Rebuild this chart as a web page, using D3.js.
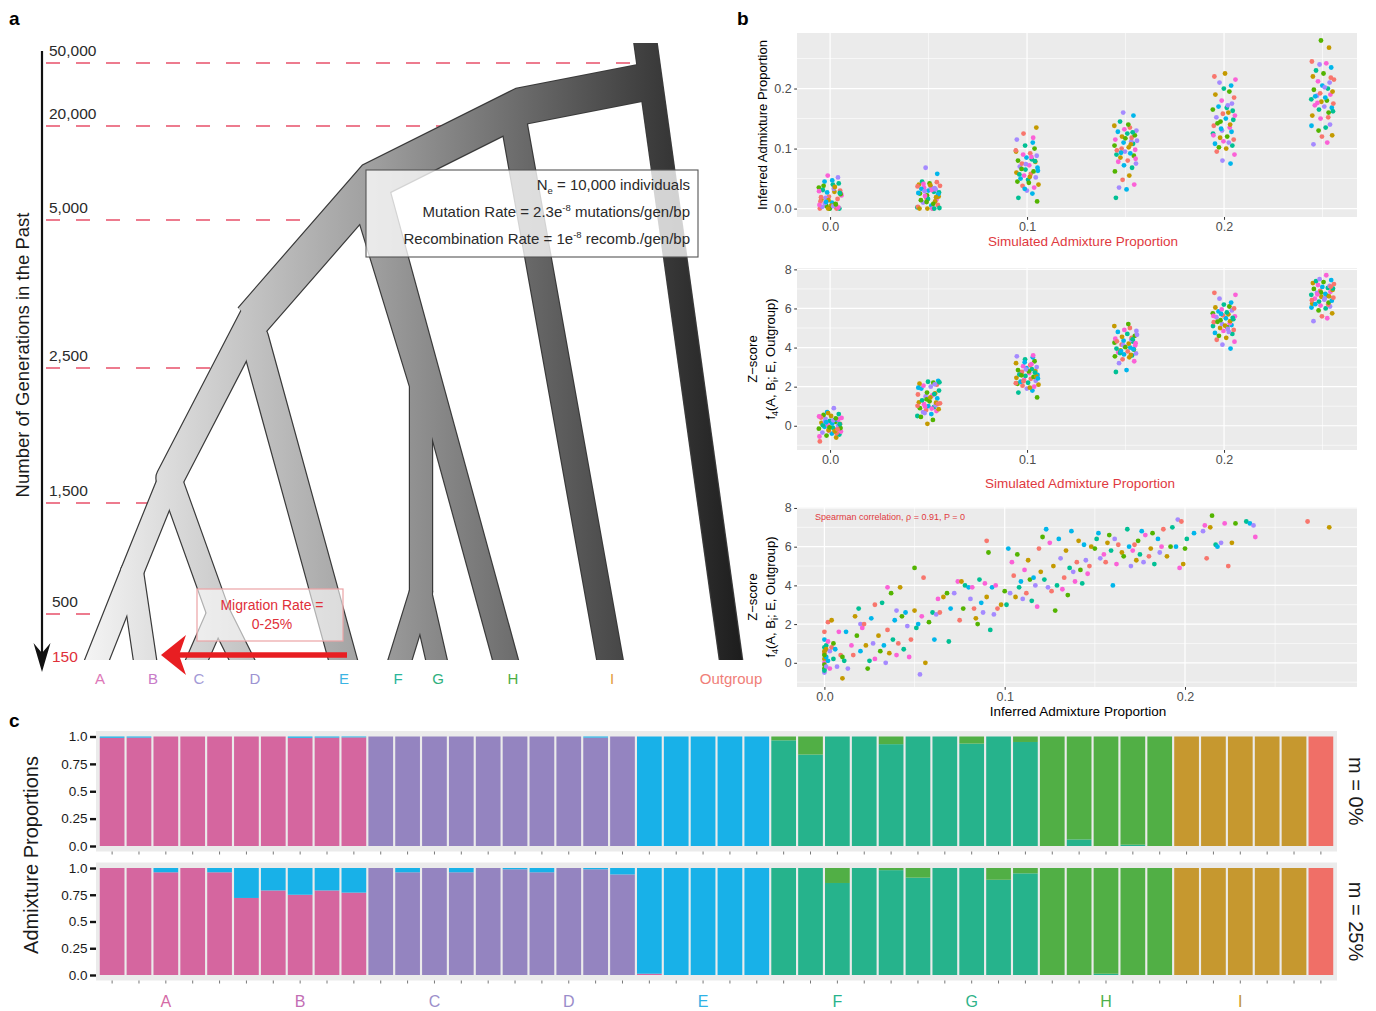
<!DOCTYPE html>
<html>
<head>
<meta charset="utf-8">
<script src="https://cdn.jsdelivr.net/npm/d3@7/dist/d3.min.js"></script>
<style>
  html, body { margin:0; padding:0; background:#ffffff; }
  svg { display:block; }
  text { white-space: pre; }
</style>
</head>
<body>
<svg id="fig" width="1376" height="1011" xmlns="http://www.w3.org/2000/svg"></svg>
<script>
// ================= DATA =================
// ---- Panel a (tree schematic) ----
const genTicks = ["50,000","20,000","5,000","2,500","1,500","500","150"];
const leafLabels = ["A","B","C","D","E","F","G","H","I","Outgroup"];
const leafColors = ["#DD78B8","#C87BC8","#A39AD6","#9D93D2","#3BB4E4","#28B59A","#2EB07E","#4BAE46","#E39A3A","#F07E78"];

// ---- Panel b ----
const simProps = [0, 0.05, 0.1, 0.15, 0.2, 0.25];
const inferredBySim = [
  [0.000,0.002,0.004,0.000,0.010,0.003,0.025,0.020,0.028,0.035,0.040,0.045,0.052,0.055,0.030,0.015,0.008,0.000,0.001,0.018,0.022,0.012,0.005,0.038,0.042,0.027,0.033,0.006,0.000,0.014,0.024,0.031,0.047,0.009,0.002,0.019,0.036,0.000,0.026,0.011,0.004,0.029,0.016,0.000,0.007],
  [0.000,0.000,0.002,0.005,0.010,0.015,0.018,0.020,0.025,0.028,0.030,0.032,0.035,0.038,0.040,0.042,0.045,0.058,0.068,0.000,0.003,0.012,0.022,0.027,0.033,0.036,0.041,0.044,0.000,0.008,0.016,0.024,0.029,0.031,0.037,0.019,0.011,0.000,0.026,0.034,0.021,0.006,0.039,0.014,0.001],
  [0.012,0.018,0.025,0.030,0.035,0.038,0.040,0.045,0.048,0.050,0.052,0.055,0.058,0.060,0.062,0.065,0.068,0.070,0.072,0.075,0.078,0.080,0.082,0.085,0.088,0.090,0.092,0.095,0.100,0.105,0.110,0.115,0.118,0.125,0.135,0.043,0.057,0.063,0.074,0.086,0.097,0.053,0.066,0.079,0.033],
  [0.018,0.032,0.035,0.040,0.048,0.055,0.062,0.068,0.072,0.075,0.078,0.080,0.085,0.088,0.090,0.092,0.095,0.098,0.100,0.102,0.105,0.108,0.110,0.112,0.115,0.118,0.120,0.122,0.125,0.128,0.130,0.132,0.135,0.138,0.140,0.145,0.155,0.160,0.083,0.097,0.107,0.117,0.127,0.093,0.113],
  [0.075,0.080,0.090,0.095,0.100,0.102,0.105,0.108,0.110,0.112,0.115,0.118,0.120,0.125,0.128,0.130,0.135,0.138,0.140,0.145,0.148,0.150,0.152,0.155,0.158,0.160,0.165,0.168,0.170,0.175,0.180,0.185,0.190,0.195,0.200,0.205,0.210,0.215,0.220,0.225,0.142,0.163,0.133,0.172,0.122],
  [0.107,0.110,0.120,0.122,0.130,0.135,0.138,0.140,0.150,0.152,0.155,0.160,0.165,0.168,0.170,0.172,0.175,0.178,0.180,0.182,0.185,0.188,0.190,0.192,0.195,0.198,0.200,0.205,0.210,0.212,0.215,0.220,0.225,0.230,0.235,0.240,0.242,0.245,0.268,0.280,0.162,0.187,0.202,0.176,0.218]
];
const zscoreBySim = [
  [-0.8,-0.6,-0.5,-0.45,-0.4,-0.35,-0.3,-0.25,-0.2,-0.15,-0.1,-0.05,0.0,0.05,0.1,0.15,0.2,0.25,0.3,0.35,0.4,0.45,0.5,0.55,0.6,0.7,0.9,-0.55,-0.38,-0.22,-0.12,0.02,0.12,0.22,0.32,0.42,-0.28,-0.08,0.08,0.18,0.28,0.48,-0.18,0.65,0.38],
  [0.1,0.3,0.5,0.6,0.7,0.75,0.8,0.85,0.9,0.95,1.0,1.05,1.1,1.15,1.2,1.25,1.3,1.4,1.5,1.55,1.6,1.65,1.7,1.8,1.9,2.0,2.05,2.1,2.15,2.2,2.25,2.3,0.65,0.88,1.02,1.18,1.35,1.62,1.95,2.12,0.98,1.12,1.45,0.45,2.22],
  [1.45,1.7,1.8,1.9,2.0,2.05,2.1,2.15,2.2,2.25,2.3,2.35,2.4,2.45,2.5,2.55,2.6,2.65,2.7,2.75,2.8,2.85,2.9,2.95,3.0,3.05,3.1,3.2,3.3,3.4,3.5,3.55,3.6,2.28,2.52,2.78,2.62,2.42,2.88,3.15,2.18,1.95,2.58,2.72,3.25],
  [2.75,2.85,3.2,3.3,3.4,3.5,3.55,3.6,3.65,3.7,3.75,3.8,3.85,3.9,3.95,4.0,4.05,4.1,4.15,4.2,4.25,4.3,4.35,4.4,4.45,4.5,4.55,4.6,4.7,4.8,4.85,4.9,5.0,5.1,5.2,3.72,3.92,4.12,4.22,4.32,3.62,4.02,4.42,3.82,4.65],
  [3.95,4.15,4.3,4.4,4.5,4.6,4.7,4.75,4.8,4.85,4.9,5.0,5.05,5.1,5.15,5.2,5.25,5.3,5.35,5.4,5.45,5.5,5.55,5.6,5.65,5.7,5.75,5.8,5.85,5.9,5.95,6.0,6.05,6.1,6.2,6.3,6.5,6.7,6.8,5.12,5.32,5.52,5.72,4.95,5.62],
  [5.35,5.5,5.6,5.75,5.9,6.0,6.05,6.1,6.15,6.2,6.25,6.3,6.35,6.4,6.45,6.5,6.55,6.6,6.65,6.7,6.75,6.8,6.85,6.9,6.95,7.0,7.05,7.1,7.15,7.2,7.25,7.3,7.35,7.4,7.45,7.5,7.7,6.42,6.62,6.82,7.02,6.22,6.52,6.72,7.12]
];
// horizontal jitter (in x units)
const jitterOffsets = [-0.0052,0.0031,-0.0018,0.0047,0.0009,-0.0039,0.0055,-0.0006,0.0022,-0.0057,0.0014,-0.0028,0.0040,-0.0012,0.0051,-0.0044,0.0027,-0.0001,0.0036,-0.0023,0.0058,-0.0049,0.0005,-0.0033,0.0044,-0.0015,0.0019,-0.0054,0.0033,-0.0008,0.0053,-0.0037,0.0011,-0.0026,0.0042,-0.0046,0.0024,-0.0003,0.0049,-0.0020,0.0016,-0.0056,0.0038,-0.0010,0.0029];
const inferredVsZ = [
 [0,0.5],[0,0.2],[0,-0.3],[0,0.8],[0,1.2],[0,-0.5],[0,0.0],[0,1.6],[0,0.6],[0,-0.1],[0.001,0.9],[0.001,0.3],[0.001,-0.2],[0.002,1.1],[0.002,2.1],[0.001,0.7],[0,0.4],[0,-0.4],[0.002,0.1],[0.003,0.6],
 [0.003,-0.3],[0.004,0.8],[0.004,2.2],[0.005,1.0],[0.005,0.2],[0.006,0.7],[0.007,-0.2],[0.008,1.6],[0.009,0.4],[0.01,-0.8],[0.01,0.3],[0.011,0.1],[0.012,1.6],[0.013,-0.3],[0.015,0.9],[0.016,0.4],[0.017,2.4],[0.018,1.4],[0.019,2.8],[0.02,0.6],
 [0.02,2.0],[0.021,1.8],[0.022,2.0],[0.023,0.9],[0.024,-0.3],[0.025,0.1],[0.026,2.3],[0.027,1.0],[0.028,0.2],[0.028,3.0],[0.03,1.4],[0.031,0.6],[0.032,3.1],[0.033,0.9],[0.034,0.0],[0.035,3.9],[0.035,1.7],[0.036,0.5],[0.037,3.6],[0.038,1.2],
 [0.039,2.2],[0.04,2.7],[0.04,0.4],[0.041,1.0],[0.042,3.9],[0.043,2.4],[0.044,0.7],[0.045,2.6],[0.046,1.9],[0.047,0.3],[0.048,1.2],[0.05,2.7],[0.05,4.9],[0.051,1.8],[0.052,2.0],[0.053,-0.6],[0.054,2.4],[0.055,4.4],[0.056,0.0],[0.058,2.1],
 [0.06,2.6],[0.061,1.2],[0.062,2.5],[0.063,3.3],[0.064,2.6],[0.066,3.4],[0.068,3.6],[0.069,1.1],[0.07,2.8],[0.072,3.6],[0.074,4.2],[0.075,2.2],[0.076,4.2],[0.077,2.8],[0.078,4.0],[0.08,3.9],[0.081,3.3],[0.082,3.9],[0.083,2.8],[0.084,2.3],
 [0.085,2.0],[0.086,4.3],[0.087,3.1],[0.088,2.6],[0.089,4.1],[0.09,6.3],[0.09,3.4],[0.091,5.7],[0.092,1.7],[0.093,3.9],[0.094,2.5],[0.095,4.0],[0.096,2.8],[0.098,3.0],[0.1,3.7],[0.101,3.0],[0.102,5.9],[0.103,3.6],[0.104,5.2],[0.105,4.5],
 [0.106,3.4],[0.107,5.6],[0.108,3.9],[0.109,4.2],[0.11,3.3],[0.111,4.8],[0.112,3.6],[0.113,5.3],[0.114,4.3],[0.115,3.2],[0.116,4.4],[0.117,4.0],[0.118,2.9],[0.119,5.9],[0.12,4.7],[0.121,6.5],[0.122,4.3],[0.123,6.9],[0.124,3.9],[0.125,6.2],
 [0.126,3.7],[0.127,5.0],[0.128,2.7],[0.129,4.0],[0.13,6.4],[0.131,5.4],[0.132,3.8],[0.133,4.4],[0.134,5.8],[0.135,3.5],[0.136,4.9],[0.137,6.8],[0.138,4.7],[0.139,4.2],[0.14,5.2],[0.141,6.3],[0.142,4.8],[0.143,4.1],[0.144,6.1],[0.145,5.3],
 [0.146,4.6],[0.147,5.0],[0.148,6.0],[0.15,5.9],[0.151,6.4],[0.152,6.7],[0.153,5.4],[0.155,5.6],[0.156,5.2],[0.157,6.2],[0.158,6.6],[0.159,5.8],[0.16,4.0],[0.161,6.4],[0.162,5.1],[0.163,6.1],[0.165,5.7],[0.166,5.5],[0.168,6.9],[0.169,6.0],
 [0.17,5.0],[0.171,5.8],[0.172,6.1],[0.173,5.3],[0.174,6.3],[0.175,5.6],[0.176,6.8],[0.177,5.2],[0.178,6.6],[0.18,5.5],[0.181,5.9],[0.182,6.7],[0.183,5.1],[0.185,6.4],[0.186,5.7],[0.187,6.0],[0.188,6.9],[0.19,5.5],[0.192,6.0],[0.193,7.0],
 [0.195,6.0],[0.196,7.4],[0.197,4.9],[0.198,7.3],[0.199,5.1],[0.2,5.9],[0.201,6.4],[0.205,6.7],[0.21,6.8],[0.211,7.1],[0.212,5.4],[0.214,7.0],[0.215,7.6],[0.217,6.1],[0.218,6.0],[0.22,6.2],[0.222,7.2],[0.224,5.0],[0.226,6.2],[0.228,7.2],
 [0.234,7.3],[0.236,7.2],[0.238,7.1],[0.239,6.5],[0.268,7.3],[0.28,7.0]
];
const pointColors = ["#F8766D","#C49A00","#53B400","#00C094","#00B6EB","#A58AFF","#FB61D7"];
const propTicks = [0, 0.1, 0.2];
const zTicks = [0, 2, 4, 6, 8];

// ---- Panel c ----
const popLabels = ["A","B","C","D","E","F","G","H","I","Outgroup"];
const popSizes = [5,5,5,5,5,5,5,5,5,1];
const popMainCluster = [0,0,1,1,2,3,3,4,5,6];
const clusterColors = ["#D5669F","#9484C0","#18B1E8","#26B38C","#51AF45","#C6982F","#F06F67"];
const popTextColors = ["#D56AA6","#C26DB4","#9C8FCB","#9A8DCA","#2FB2E6","#27B38C","#2FB389","#4DB14C","#C3962E","#F0746B"];
const admixTicks = [0, 0.25, 0.5, 0.75, 1];
const migrationFacets = ["m = 0%", "m = 25%"];
// minor ancestry components: [bar index, cluster index, proportion]
const admixM0 = [[0,2,0.012],[1,2,0.01],[7,2,0.012],[8,2,0.01],[9,2,0.008],[18,2,0.01],
  [25,4,0.035],[26,4,0.165],[29,4,0.07],[32,4,0.065],[34,4,0.05],[36,3,0.06],[38,3,0.012]];
const admixM25 = [[2,2,0.04],[4,2,0.04],[5,2,0.28],[6,2,0.21],[7,2,0.25],[8,2,0.21],[9,2,0.23],
  [11,2,0.04],[13,2,0.04],[15,2,0.012],[16,2,0.04],[18,2,0.012],[19,2,0.06],[20,0,0.012],
  [27,4,0.14],[29,4,0.02],[30,4,0.09],[33,4,0.11],[34,4,0.05],[37,3,0.012]];

// ================= DRAWING =================
const FONT = "'Liberation Sans', Arial, Helvetica, sans-serif";
const svg = d3.select("#fig").attr("font-family", FONT);
const defs = svg.append("defs");

function txt(parent, x, y, s, o = {}) {
  const t = parent.append("text").attr("x", x).attr("y", y).text(s)
    .attr("font-size", o.size || 14).attr("fill", o.fill || "#000")
    .attr("text-anchor", o.anchor || "start");
  if (o.weight) t.attr("font-weight", o.weight);
  if (o.rotate) t.attr("transform", `rotate(${o.rotate},${x},${y})`);
  return t;
}

// panel letters
txt(svg, 9, 25, "a", {size: 19, weight: "bold"});
txt(svg, 737, 25, "b", {size: 19, weight: "bold"});
txt(svg, 9, 727, "c", {size: 19, weight: "bold"});

// ---------- Panel a ----------
const gA = svg.append("g");
const genLineY = d3.scaleOrdinal().domain(genTicks).range([63, 126, 220, 368, 503, 614, 660]);
const dashEnd = d3.scaleOrdinal().domain(genTicks).range([645, 455, 328, 216, 152, 108, 0]);

// dashed red guide lines
gA.selectAll("line.dash").data(genTicks.slice(0, 6)).join("line")
  .attr("x1", 46).attr("x2", d => dashEnd(d))
  .attr("y1", d => genLineY(d)).attr("y2", d => genLineY(d))
  .attr("stroke", "#E8506A").attr("stroke-width", 1.6).attr("stroke-dasharray", "14,16");

// tick labels
gA.selectAll("text.gen").data(genTicks).join("text")
  .attr("x", d => d === "500" || d === "150" ? 52 : 49)
  .attr("y", d => d === "150" ? 662 : genLineY(d) - 7)
  .attr("font-size", 15.5).attr("fill", d => d === "150" ? "#E0303A" : "#2A2A2A")
  .text(d => d);

// time axis arrow
gA.append("line").attr("x1", 42).attr("x2", 42).attr("y1", 51).attr("y2", 655)
  .attr("stroke", "#111").attr("stroke-width", 2.2);
gA.append("path").attr("d", "M42,672 L33.5,643 L42,653 L50.5,643 Z").attr("fill", "#111");
txt(gA, 29, 355, "Number of Generations in the Past", {size: 18.5, anchor: "middle", rotate: -90, fill: "#1a1a1a"});

// tree schematic (layout geometry of the illustration)
const FOOT = 660, EXT = 682;
function ext(p, footX) { // extend branch p -> (footX, FOOT) to EXT (clipped later)
  const t = (EXT - p[1]) / (FOOT - p[1]);
  return [p[0] + (footX - p[0]) * t, EXT];
}
const leafFootX = {A: 97, B: 145, C: 197, D: 242, E: 343, F: 400, G: 436.5, H: 505.5, I: 610, Out: 731};
const N = {rJ: [645, 82], nI: [522, 106], n2: [374, 180], n3: [252, 320], n3a: [256, 312], n4: [170, 478], n5: [132, 572],
           n6: [218, 612], fg0: [364, 199], n7: [421, 385], n8: [421, 592], h0: [377, 190], i0: [512, 112],
           e0: [254.5, 338], og0: [643.7, 30]};
const treeBranches = [
  {pts: [N.og0, ext(N.og0, leafFootX.Out)], w: 22, cap: "butt"},
  {pts: [N.rJ, N.nI, N.n2, N.n3], w: 36, cap: "butt"},
  {pts: [N.i0, ext(N.i0, leafFootX.I)], w: 25, cap: "round"},
  {pts: [N.h0, ext(N.h0, leafFootX.H)], w: 24, cap: "butt"},
  {pts: [N.fg0, N.n7, N.n8], w: 22, cap: "butt"},
  {pts: [N.n8, ext(N.n8, leafFootX.F)], w: 22, cap: "round"},
  {pts: [N.n8, ext(N.n8, leafFootX.G)], w: 20, cap: "round"},
  {pts: [N.e0, ext(N.e0, leafFootX.E)], w: 27, cap: "round"},
  {pts: [N.n3a, N.n4], w: 27, cap: "round"},
  {pts: [N.n4, N.n5, ext(N.n5, leafFootX.A)], w: 22, cap: "round"},
  {pts: [N.n5, ext(N.n5, leafFootX.B)], w: 22, cap: "round"},
  {pts: [N.n4, N.n6, ext(N.n6, leafFootX.D)], w: 22, cap: "round"},
  {pts: [N.n6, ext(N.n6, leafFootX.C)], w: 20, cap: "round"}
];
const grad = defs.append("linearGradient").attr("id", "treeGrad")
  .attr("gradientUnits", "userSpaceOnUse").attr("x1", 85).attr("x2", 745).attr("y1", 0).attr("y2", 0);
grad.append("stop").attr("offset", 0).attr("stop-color", "#F4F4F4");
grad.append("stop").attr("offset", 0.45).attr("stop-color", "#9C9C9C");
grad.append("stop").attr("offset", 1).attr("stop-color", "#1C1C1C");
defs.append("clipPath").attr("id", "treeClip").append("rect")
  .attr("x", 0).attr("y", 43).attr("width", 800).attr("height", FOOT - 43);
const line = d3.line();
const gTree = gA.append("g").attr("clip-path", "url(#treeClip)");
gTree.selectAll("path.outline").data(treeBranches).join("path")
  .attr("d", d => line(d.pts)).attr("fill", "none").attr("stroke", "#3A3A3A")
  .attr("stroke-width", d => d.w + 2.4).attr("stroke-linecap", d => d.cap).attr("stroke-linejoin", "miter");
gTree.selectAll("path.fill").data(treeBranches).join("path")
  .attr("d", d => line(d.pts)).attr("fill", "none").attr("stroke", "url(#treeGrad)")
  .attr("stroke-width", d => d.w).attr("stroke-linecap", d => d.cap).attr("stroke-linejoin", "miter");

// parameter box
gA.append("rect").attr("x", 366).attr("y", 170).attr("width", 332).attr("height", 87)
  .attr("fill", "#FFFFFF").attr("fill-opacity", 0.78).attr("stroke", "#555").attr("stroke-width", 1.1);
function paramLine(y, parts) {
  const t = gA.append("text").attr("x", 690).attr("y", y).attr("text-anchor", "end")
    .attr("font-size", 15).attr("fill", "#2A2A2A");
  parts.forEach(p => {
    const s = t.append("tspan").text(p.t);
    if (p.sub) s.attr("font-size", 9.5).attr("dy", 4);
    if (p.sup) s.attr("font-size", 9.5).attr("dy", -6);
    if (p.back) s.attr("dy", p.back);
  });
}
paramLine(190, [{t: "N"}, {t: "e", sub: true}, {t: " = 10,000 individuals", back: -4}]);
paramLine(217, [{t: "Mutation Rate = 2.3e"}, {t: "-8", sup: true}, {t: " mutations/gen/bp", back: 6}]);
paramLine(244, [{t: "Recombination Rate = 1e"}, {t: "-8", sup: true}, {t: " recomb./gen/bp", back: 6}]);

// migration box + arrow
gA.append("rect").attr("x", 197).attr("y", 589).attr("width", 146).attr("height", 52)
  .attr("fill", "#FFFFFF").attr("fill-opacity", 0.6).attr("stroke", "#EBA3A6").attr("stroke-width", 1.2);
txt(gA, 272, 610, "Migration Rate =", {size: 14, anchor: "middle", fill: "#E0303A"});
txt(gA, 272, 629, "0-25%", {size: 14, anchor: "middle", fill: "#E0303A"});
gA.append("line").attr("x1", 347).attr("x2", 176).attr("y1", 655).attr("y2", 655)
  .attr("stroke", "#E81E22").attr("stroke-width", 5.5);
gA.append("path").attr("d", "M161,655 L186,635 L179,655 L186,675 Z").attr("fill", "#E81E22");

// leaf labels
const leafLabelX = d3.scaleOrdinal().domain(leafLabels).range([100, 153, 199, 255, 344, 398, 438, 513, 612, 731]);
gA.selectAll("text.leaf").data(leafLabels).join("text")
  .attr("x", d => leafLabelX(d)).attr("y", 684).attr("text-anchor", "middle")
  .attr("font-size", 15).attr("fill", (d, i) => leafColors[i]).text(d => d);

// ---------- Panel b ----------
function scatterPanel(o) {
  const g = svg.append("g");
  const x = d3.scaleLinear().domain(o.xDom).range([o.left, o.right]);
  const y = d3.scaleLinear().domain(o.yDom).range([o.bottom, o.top]);
  g.append("rect").attr("x", o.left).attr("y", o.top).attr("width", o.right - o.left)
    .attr("height", o.bottom - o.top).attr("fill", "#EBEBEB");
  g.selectAll("line.xmin").data(o.xMinor).join("line")
    .attr("x1", d => x(d)).attr("x2", d => x(d)).attr("y1", o.top).attr("y2", o.bottom)
    .attr("stroke", "#fff").attr("stroke-width", 0.6);
  g.selectAll("line.ymin").data(o.yMinor).join("line")
    .attr("y1", d => y(d)).attr("y2", d => y(d)).attr("x1", o.left).attr("x2", o.right)
    .attr("stroke", "#fff").attr("stroke-width", 0.6);
  g.selectAll("line.xmaj").data(o.xMajor).join("line")
    .attr("x1", d => x(d)).attr("x2", d => x(d)).attr("y1", o.top).attr("y2", o.bottom)
    .attr("stroke", "#fff").attr("stroke-width", 1.2);
  g.selectAll("line.ymaj").data(o.yMajor).join("line")
    .attr("y1", d => y(d)).attr("y2", d => y(d)).attr("x1", o.left).attr("x2", o.right)
    .attr("stroke", "#fff").attr("stroke-width", 1.2);
  g.selectAll("circle").data(o.points).join("circle")
    .attr("cx", d => x(d.x)).attr("cy", d => y(d.y)).attr("r", 2.4).attr("fill", d => d.c);
  const ax = g.append("g").attr("transform", `translate(0,${o.bottom})`)
    .call(d3.axisBottom(x).tickValues(o.xMajor).tickSize(2.8).tickPadding(2.5).tickFormat(o.xFmt));
  const ay = g.append("g").attr("transform", `translate(${o.left},0)`)
    .call(d3.axisLeft(y).tickValues(o.yMajor).tickSize(2.8).tickPadding(2.5).tickFormat(o.yFmt));
  [ax, ay].forEach(a => {
    a.select(".domain").remove();
    a.selectAll(".tick line").attr("stroke", "#333");
    a.selectAll(".tick text").attr("fill", "#4D4D4D").attr("font-size", 12.5).attr("font-family", FONT);
  });
  return {g, x, y};
}
const fmt1 = d3.format(".1f");
const fmt0 = d3.format("d");

function jitterPoints(values) {
  const pts = [];
  values.forEach((arr, gi) => arr.forEach((v, i) => {
    pts.push({x: simProps[gi] + jitterOffsets[(i + gi * 7) % jitterOffsets.length], y: v,
              c: pointColors[(i + gi) % pointColors.length]});
  }));
  return pts;
}

// b1
scatterPanel({left: 797, right: 1357, top: 33, bottom: 217,
  xDom: [-0.0168, 0.2675], yDom: [-0.014, 0.2925],
  xMajor: propTicks, xMinor: [0.05, 0.15, 0.25], yMajor: propTicks, yMinor: [0.05, 0.15, 0.25],
  xFmt: fmt1, yFmt: fmt1, points: jitterPoints(inferredBySim)});
txt(svg, 767, 125, "Inferred Admixture Proportion", {size: 13, anchor: "middle", rotate: -90});
txt(svg, 1083, 246, "Simulated Admixture Proportion", {size: 13.5, anchor: "middle", fill: "#E0393E"});

// b2
scatterPanel({left: 797, right: 1357, top: 268, bottom: 450,
  xDom: [-0.0168, 0.2675], yDom: [-1.24, 8.07],
  xMajor: propTicks, xMinor: [0.05, 0.15, 0.25], yMajor: zTicks, yMinor: [-1, 1, 3, 5, 7],
  xFmt: fmt1, yFmt: fmt0, points: jitterPoints(zscoreBySim)});
function zTitle(cy) {
  txt(svg, 757, cy, "Z\u2212score", {size: 13, anchor: "middle", rotate: -90});
  const t = svg.append("text").attr("x", 775).attr("y", cy).attr("text-anchor", "middle")
    .attr("font-size", 13).attr("transform", `rotate(-90,775,${cy})`);
  t.append("tspan").text("f");
  t.append("tspan").attr("font-size", 9).attr("dy", 3).text("4");
  t.append("tspan").attr("dy", -3).text("(A, B");
  t.append("tspan").attr("font-size", 9).attr("dy", 3).text("i");
  t.append("tspan").attr("dy", -3).text("; E, Outgroup)");
}
zTitle(359);
txt(svg, 1080, 488, "Simulated Admixture Proportion", {size: 13.5, anchor: "middle", fill: "#E0393E"});

// b3
scatterPanel({left: 797, right: 1357, top: 507, bottom: 687,
  xDom: [-0.0152, 0.2954], yDom: [-1.25, 8.05],
  xMajor: propTicks, xMinor: [0.05, 0.15, 0.25], yMajor: zTicks, yMinor: [-1, 1, 3, 5, 7],
  xFmt: fmt1, yFmt: fmt0,
  points: inferredVsZ.map((d, i) => ({x: d[0], y: d[1], c: pointColors[i % pointColors.length]}))});
zTitle(597);
txt(svg, 1078, 716, "Inferred Admixture Proportion", {size: 13.5, anchor: "middle"});
txt(svg, 815, 520, "Spearman correlation, \u03C1 = 0.91, P = 0", {size: 9, fill: "#E0393E"});

// ---------- Panel c ----------
const bars = [];
popLabels.forEach((p, pi) => d3.range(popSizes[pi]).forEach(j => bars.push({id: p + "_" + j, pop: pi})));
const xC = d3.scaleBand().domain(bars.map(b => b.id)).range([96, 1337]).paddingInner(0.08).paddingOuter(0.14);

function buildRows(minors) {
  return bars.map((b, bi) => {
    const row = d3.range(7).map(() => 0);
    minors.filter(m => m[0] === bi).forEach(m => { row[m[1]] += m[2]; });
    row[popMainCluster[b.pop]] += 1 - d3.sum(row);
    return row;
  });
}
const facets = [
  {label: migrationFacets[0], minors: admixM0, bgTop: 731, bgBottom: 851.5, y1: 736.5, y0: 846},
  {label: migrationFacets[1], minors: admixM25, bgTop: 862.5, bgBottom: 980.5, y1: 868, y0: 975}
];
facets.forEach(f => {
  const g = svg.append("g");
  const y = d3.scaleLinear().domain([0, 1]).range([f.y0, f.y1]);
  g.append("rect").attr("x", 96).attr("y", f.bgTop).attr("width", 1337 - 96)
    .attr("height", f.bgBottom - f.bgTop).attr("fill", "#EBEBEB");
  const rows = buildRows(f.minors);
  const series = d3.stack().keys(d3.range(7))(rows);
  g.selectAll("g.layer").data(series).join("g").attr("fill", (d, i) => clusterColors[i])
    .selectAll("rect").data(d => d).join("rect")
    .attr("x", (d, i) => xC(bars[i].id)).attr("width", xC.bandwidth())
    .attr("y", d => y(d[1])).attr("height", d => Math.max(0, y(d[0]) - y(d[1])));
  // x ticks
  g.selectAll("line.xt").data(bars).join("line")
    .attr("x1", d => xC(d.id) + xC.bandwidth() / 2).attr("x2", d => xC(d.id) + xC.bandwidth() / 2)
    .attr("y1", f.bgBottom).attr("y2", f.bgBottom + 3).attr("stroke", "#555").attr("stroke-width", 0.8);
  const ay = g.append("g").attr("transform", "translate(96,0)")
    .call(d3.axisLeft(y).tickValues(admixTicks).tickSize(6).tickPadding(2.5)
      .tickFormat(d => d === 0 ? "0.0" : d === 1 ? "1.0" : String(d)));
  ay.select(".domain").remove();
  ay.selectAll(".tick line").attr("stroke", "#111").attr("stroke-width", 2.4);
  ay.selectAll(".tick text").attr("fill", "#1A1A1A").attr("font-size", 13.5).attr("font-family", FONT);
  const cy = (f.bgTop + f.bgBottom) / 2;
  txt(g, 1349, cy, f.label, {size: 20, anchor: "middle", rotate: 90, fill: "#1A1A1A"});
});
txt(svg, 38, 855, "Admixture Proportions", {size: 20, anchor: "middle", rotate: -90, fill: "#1A1A1A"});
// population labels
const popCenters = popLabels.map((p, pi) => {
  const ids = bars.filter(b => b.pop === pi).map(b => b.id);
  return (xC(ids[0]) + xC(ids[ids.length - 1]) + xC.bandwidth()) / 2;
});
svg.selectAll("text.pop").data(popLabels.slice(0, 9)).join("text")
  .attr("x", (d, i) => popCenters[i]).attr("y", 1007).attr("text-anchor", "middle")
  .attr("font-size", 16).attr("fill", (d, i) => popTextColors[i]).text(d => d);
</script>
</body>
</html>
